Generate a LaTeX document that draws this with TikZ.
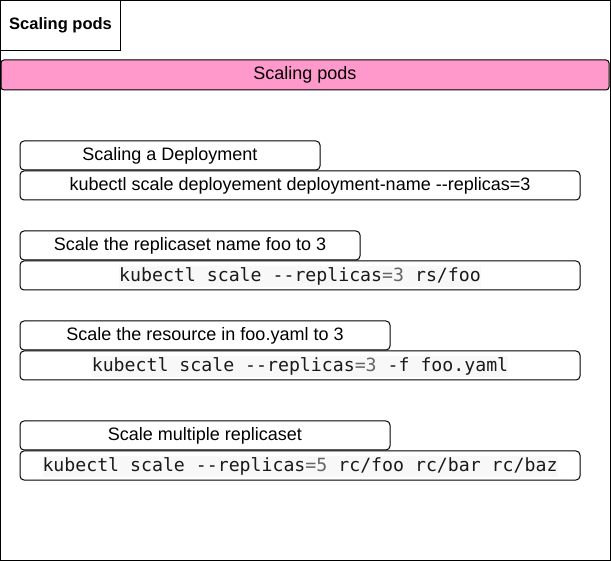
\documentclass[tikz,border=0pt]{standalone}
\usepackage{fontspec}
\setmainfont{Liberation Sans}
\newfontfamily\codefont{DejaVu Sans Mono}
\definecolor{pinkbar}{HTML}{FF99CC}
\definecolor{codebg}{HTML}{F8F8F8}
\definecolor{codegray}{HTML}{666666}
\definecolor{codetext}{HTML}{1A1A1A}
\begin{document}
\begin{tikzpicture}[x=1pt,y=-1pt,
  every node/.style={inner sep=0pt,outer sep=0pt},
  frame/.style={draw=black,line width=1pt},
  rbox/.style={draw=black,line width=1pt,rounded corners=4pt,anchor=north west,
    font=\fontsize{18}{20}\selectfont},
  codetxt/.style={fill=codebg,text=codetext,inner ysep=2pt,yshift=-1pt,
    font=\codefont\fontsize{18.2}{20}\selectfont}]
\useasboundingbox (0,0) rectangle (611,561);
% outer frame
\draw[frame] (0.5,0.5) rectangle (610,560);
% title box
\node[frame,anchor=north west,minimum width=120pt,minimum height=50pt,
  font=\bfseries\fontsize{16.5}{18}\selectfont] (title) at (0.5,0.5) {Scaling pods};
% pink header
\node[rbox,fill=pinkbar,rounded corners=3pt,minimum width=608pt,minimum height=30pt] (header) at (1,60) {Scaling pods};
% section 1
\node[rbox,minimum width=300pt,minimum height=29pt] (l1) at (20,141) {Scaling a Deployment};
\node[rbox,minimum width=560pt,minimum height=29pt] (c1) at (20,171) {kubectl scale deployement deployment-name -{}-replicas=3};
% section 2
\node[rbox,minimum width=340pt,minimum height=29pt] (l2) at (20,231) {Scale the replicaset name foo to 3};
\node[rbox,minimum width=560pt,minimum height=29pt] (c2) at (20,261) {};
\node[codetxt] (t2) at (c2.center) {kubectl scale -{}-replicas\textcolor{codegray}{=3} rs/foo\ };
% section 3
\node[rbox,minimum width=370pt,minimum height=29pt] (l3) at (20,321) {Scale the resource in foo.yaml to 3};
\node[rbox,minimum width=560pt,minimum height=29pt] (c3) at (20,351) {};
\node[codetxt] (t3) at (c3.center) {kubectl scale -{}-replicas\textcolor{codegray}{=3} -f foo.yaml\ };
% section 4
\node[rbox,minimum width=370pt,minimum height=29pt] (l4) at (20,421) {Scale multiple replicaset};
\node[rbox,minimum width=560pt,minimum height=29pt] (c4) at (20,451) {};
\node[codetxt] (t4) at (c4.center) {kubectl scale -{}-replicas\textcolor{codegray}{=5} rc/foo rc/bar rc/baz};
\end{tikzpicture}
\end{document}
